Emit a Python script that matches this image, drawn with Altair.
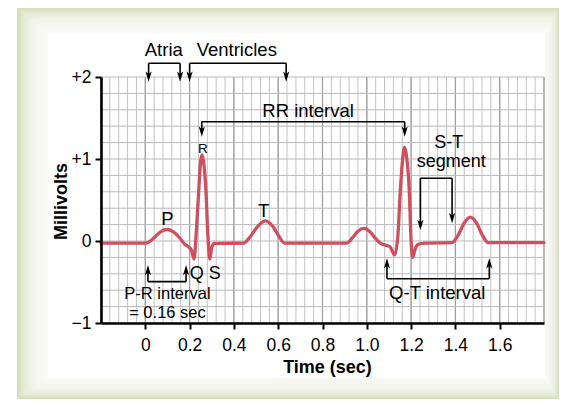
import altair as alt
import pandas as pd

# ---------------- data ----------------
ecg_t = [-0.2, 0.0, 0.015, 0.04, 0.07, 0.098, 0.125, 0.155, 0.178, 0.195, 0.208,
         0.22, 0.23, 0.241, 0.249, 0.256, 0.264, 0.274, 0.283, 0.291, 0.300, 0.312,
         0.445, 0.47, 0.505, 0.542, 0.578, 0.605, 0.628,
         0.91, 0.935, 0.96, 0.986, 1.012, 1.04, 1.062, 1.085, 1.105,
         1.125, 1.14, 1.151, 1.162, 1.171, 1.181, 1.192, 1.200, 1.207, 1.218, 1.232, 1.26,
         1.385, 1.41, 1.44, 1.467, 1.495, 1.522, 1.548, 1.8]
ecg_mv = [-0.025, -0.025, -0.015, 0.04, 0.115, 0.14, 0.115, 0.04, -0.04, -0.07, -0.11,
          -0.22, 0.1, 0.6, 0.95, 1.05, 0.95, 0.6, 0.05, -0.22, -0.08, -0.03,
          -0.025, 0.04, 0.17, 0.245, 0.17, 0.05, -0.025,
          -0.025, 0.04, 0.12, 0.155, 0.12, 0.03, -0.03, -0.05, -0.07,
          -0.17, 0.05, 0.6, 1.0, 1.14, 1.0, 0.6, 0.0, -0.2, -0.1, -0.04, -0.025,
          -0.02, 0.06, 0.22, 0.29, 0.22, 0.07, -0.02, -0.02]

x_ticks = [0, 0.2, 0.4, 0.6, 0.8, 1.0, 1.2, 1.4, 1.6]
y_ticks = [-1, 0, 1, 2]

grid_minor_t = [round(-0.2 + 0.04 * i, 2) for i in range(51)]
grid_major_t = [round(-0.2 + 0.2 * i, 2) for i in range(11)]
grid_mv = [round(-1 + 0.2 * i, 2) for i in range(16)]

seg_t1 = [0.015, 0.015, 0.157, 0.2, 0.2, 0.636, 0.255, 0.255, 1.171,
          1.242, 1.242, 1.385, 0.012, 0.012, 0.184, 1.091, 1.091, 1.553]
seg_v1 = [2.167, 2.167, 2.167, 2.167, 2.167, 2.167, 1.455, 1.455, 1.455,
          0.765, 0.765, 0.765, -0.496, -0.496, -0.496, -0.46, -0.46, -0.46]
seg_t2 = [0.157, 0.015, 0.157, 0.636, 0.2, 0.636, 1.171, 0.255, 1.171,
          1.385, 1.242, 1.385, 0.184, 0.012, 0.184, 1.553, 1.091, 1.553]
seg_v2 = [2.167, 1.99, 1.99, 2.167, 1.99, 1.99, 1.455, 1.32, 1.32,
          0.765, 0.18, 0.26, -0.496, -0.34, -0.34, -0.46, -0.26, -0.26]

arrow_t = [0.015, 0.157, 0.2, 0.636, 0.255, 1.171, 1.242, 1.385, 0.012, 0.184, 1.091, 1.553]
arrow_v = [1.943, 1.943, 1.943, 1.943, 1.272, 1.272, 0.134, 0.216, -0.293, -0.293, -0.211, -0.211]
arrow_dir = ["down"] * 8 + ["up"] * 4

label_text = ["Atria", "Ventricles", "RR interval", "R", "S-T", "segment", "P", "T",
              "Q S", "P-R interval", "= 0.16 sec", "Q-T interval"]
label_t = [0.0835, 0.413, 0.735, 0.26, 1.37, 1.381, 0.1, 0.534, 0.271, 0.1, 0.1, 1.318]
label_v = [2.256, 2.256, 1.516, 1.073, 1.14, 0.906, 0.195, 0.296, -0.463, -0.711, -0.943, -0.711]
label_size = [18.5, 18.5, 18.5, 13.5, 18, 18, 18.5, 18.5, 18, 16.5, 16.5, 18.5]

# ---------------- chart ----------------
FONT = "Liberation Sans"
W, H = 443, 246
xs = alt.Scale(domain=[-0.2, 1.8], nice=False, zero=False)
ys = alt.Scale(domain=[-1, 2], nice=False, zero=False)

X_AX = alt.Axis(
    values=x_ticks,
    labelExpr="datum.value == 0 ? '0' : format(datum.value, '.1f')",
    title="Time (sec)", titleFont=FONT, titleFontSize=18, titleFontWeight="bold",
    titleColor="black", titleX=226, titleY=35, titleBaseline="top",
    labelFont=FONT, labelFontSize=17.5, labelColor="black", labelPadding=7,
    tickSize=6, tickWidth=2, tickColor="black",
    domainColor="black", domainWidth=2.6, grid=False, zindex=1)
Y_AX = alt.Axis(
    values=y_ticks,
    labelExpr="datum.value > 0 ? '+' + datum.value : (datum.value < 0 ? '\u2212' + abs(datum.value) : '0')",
    title="Millivolts", titleFont=FONT, titleFontSize=18, titleFontWeight="bold",
    titleColor="black", titleX=-40, titleY=124, titleAngle=270,
    titleBaseline="middle", titleAlign="center",
    labelFont=FONT, labelFontSize=17.5, labelColor="black", labelPadding=4,
    tickSize=6, tickWidth=2, tickColor="black",
    domainColor="black", domainWidth=2.6, grid=False, zindex=1)


def X(f):
    return alt.X(f, scale=xs, axis=X_AX)


def Y(f):
    return alt.Y(f, scale=ys, axis=Y_AX)


one = pd.DataFrame({"d": [0]})

# frame decoration (olive border fading into a white panel)
outer = (-84, -69, 458, 322)
inner = (-53, -44, 444, 301)
deco = [alt.Chart(one).mark_rect(color="#d8dfbe").encode(
    x=alt.value(outer[0]), x2=alt.value(outer[2]),
    y=alt.value(outer[1]), y2=alt.value(outer[3]))]
N = 9
for k in range(1, N + 1):
    f = k / (N + 1)
    r = [o + f * (i - o) for o, i in zip(outer, inner)]
    deco.append(alt.Chart(one).mark_rect(color="white", opacity=0.22).encode(
        x=alt.value(r[0]), x2=alt.value(r[2]), y=alt.value(r[1]), y2=alt.value(r[3])))
deco.append(alt.Chart(one).mark_rect(color="white").encode(
    x=alt.value(inner[0]), x2=alt.value(inner[2]),
    y=alt.value(inner[1]), y2=alt.value(inner[3])))

minor = alt.Chart(pd.DataFrame({"t": grid_minor_t})).mark_rule(
    color="#c3c3c3", strokeWidth=1).encode(x=X("t:Q"))
major = alt.Chart(pd.DataFrame({"t": grid_major_t})).mark_rule(
    color="#a0a0a0", strokeWidth=1.3).encode(x=X("t:Q"))
hgrid = alt.Chart(pd.DataFrame({"v": grid_mv})).mark_rule(
    color="#b9b9b9", strokeWidth=1).encode(y=Y("v:Q"))

ecg = alt.Chart(pd.DataFrame({"t": ecg_t, "v": ecg_mv})).mark_line(
    color="#cf4f5f", strokeWidth=3.3, interpolate="monotone",
    strokeCap="round", strokeJoin="round").encode(
    x=X("t:Q"), y=Y("v:Q"), order=alt.Order("t:Q"))

segs = alt.Chart(pd.DataFrame({"t": seg_t1, "v": seg_v1, "t2": seg_t2, "v2": seg_v2})).mark_rule(
    color="black", strokeWidth=1.6).encode(
    x=X("t:Q"), x2="t2:Q", y=Y("v:Q"), y2="v2:Q")

adf = pd.DataFrame({"t": arrow_t, "v": arrow_v, "dir": arrow_dir})
down_path = "M0,0 L-0.3,-1 L0,-0.75 L0.3,-1 Z"
up_path = "M0,0 L-0.3,1 L0,0.75 L0.3,1 Z"
arrows_down = alt.Chart(adf[adf.dir == "down"]).mark_point(
    shape=down_path, size=420, filled=True, color="black", opacity=1).encode(
    x=X("t:Q"), y=Y("v:Q"))
arrows_up = alt.Chart(adf[adf.dir == "up"]).mark_point(
    shape=up_path, size=420, filled=True, color="black", opacity=1).encode(
    x=X("t:Q"), y=Y("v:Q"))

labels = alt.Chart(pd.DataFrame({"t": label_t, "v": label_v, "txt": label_text, "fs": label_size})).mark_text(
    font=FONT, color="black", align="center", baseline="alphabetic").encode(
    x=X("t:Q"), y=Y("v:Q"),
    text="txt:N", size=alt.Size("fs:Q", scale=None, legend=None))

chart = alt.layer(*deco, minor, major, hgrid, ecg, segs, arrows_down, arrows_up, labels).properties(
    width=W, height=H,
    autosize=alt.AutoSizeParams(type="none"),
    padding={"left": 93, "top": 69, "right": 15, "bottom": 76},
    background="white",
).configure_view(stroke=None)

chart.save("out.html", embed_options={"renderer": "svg", "actions": False})
